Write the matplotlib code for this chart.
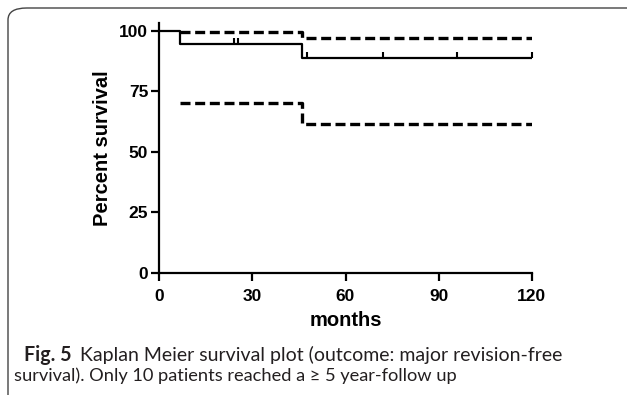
import matplotlib
matplotlib.use("Agg")
import matplotlib.pyplot as plt
from matplotlib.path import Path
from matplotlib.patches import FancyBboxPatch

# ---- data ----
surv_times = [0, 6.7, 46, 120]
surv_vals = [100, 94.7, 88.6, 88.6]
censor_times = [24, 25.5, 47.7, 72, 96, 120]
censor_vals = [94.7, 94.7, 88.6, 88.6, 88.6, 88.6]
ci_times = [6.7, 46, 120]
ci_upper = [99.3, 97.1, 97.1]
ci_lower = [70.0, 61.5, 61.5]
x_ticks = [0, 30, 60, 90, 120]
y_ticks = [0, 25, 50, 75, 100]
x_label = "months"
y_label = "Percent survival"
cap_bold = "Fig. 5"
cap_line1 = "Kaplan Meier survival plot (outcome: major revision-free"
cap_line2 = "survival). Only 10 patients reached a \u2265 5 year-follow up"

W, H = 627, 395
fig = plt.figure(figsize=(W / 100, H / 100), dpi=100)

# rounded frame
frame = FancyBboxPatch((8 / W, -30 / H), 660 / W, (395 - 8 + 30) / H,
                       boxstyle="round,pad=0,rounding_size=0.03",
                       transform=fig.transFigure, fill=False,
                       edgecolor="#444444", lw=1.0, clip_on=False)
fig.patches.append(frame)

ax = fig.add_axes([159.3 / W, (395 - 273) / H, (531.7 - 159.3) / W, (103 * 2.423) / H])
ax.set_xlim(0, 120)
ax.set_ylim(0, 103)

ax.step(surv_times, surv_vals, where="post", color="black", lw=1.6, solid_capstyle="butt")
dash = (0, (3.0, 1.4))
ax.step(ci_times, ci_upper, where="post", color="black", lw=2.4, linestyle=dash)
ax.step(ci_times, ci_lower, where="post", color="black", lw=2.4, linestyle=dash)

up_tick = Path([(0, 0), (0, 1)], [Path.MOVETO, Path.LINETO])
ax.plot(censor_times, censor_vals, linestyle="none", marker=up_tick,
        markersize=9, markeredgewidth=1.5, color="black", clip_on=False)

for s in ["top", "right"]:
    ax.spines[s].set_visible(False)
for s in ["left", "bottom"]:
    ax.spines[s].set_linewidth(1.6)
ax.set_xticks(x_ticks)
ax.set_yticks(y_ticks)
ax.tick_params(axis="both", direction="out", length=6, width=1.6, labelsize=12.5)
ax.tick_params(axis="x", pad=5.5)
ax.tick_params(axis="y", pad=2)
for lab in ax.get_xticklabels() + ax.get_yticklabels():
    lab.set_fontweight("bold")
    lab.set_fontfamily("Liberation Sans")
ax.set_xlabel(x_label, fontsize=14.5, fontweight="bold", family="Liberation Sans", labelpad=5)
ax.set_ylabel(y_label, fontsize=14.5, fontweight="bold", family="Liberation Sans", labelpad=5)

# caption
cap_font = "Lato"
cap_color = "#231f20"
fig.canvas.draw()
r = fig.canvas.get_renderer()


def fitted(x_px, base_px, txt, target_w, bold=False):
    t = fig.text(x_px / W, 1 - base_px / H, txt, fontsize=12, family=cap_font,
                 fontweight="bold" if bold else "normal", color=cap_color, va="baseline")
    w = t.get_window_extent(r).width
    t.set_fontsize(12 * target_w / w)
    return t


fitted(24, 361, cap_bold, 47, bold=True)
fitted(80, 361, cap_line1, 482)
fitted(14, 381, cap_line2, 443)

fig.savefig("out.png", dpi=100)
